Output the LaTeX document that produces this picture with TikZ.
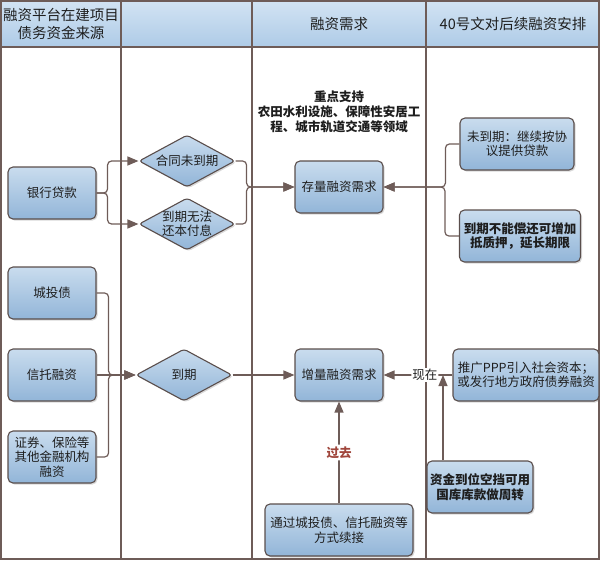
\documentclass[tikz,border=0pt]{standalone}
\usepackage{fontspec}
\setmainfont{Noto Sans CJK SC}
\usetikzlibrary{shapes.geometric,arrows.meta,shadows}
\definecolor{laneline}{HTML}{6E5C58}
\definecolor{boxline}{HTML}{5A4E4C}
\definecolor{boxtop}{HTML}{C9DCEE}
\definecolor{boxbot}{HTML}{92B5D8}
\definecolor{headtop}{HTML}{D2E3F3}
\definecolor{headbot}{HTML}{AECBE7}
\definecolor{pastred}{HTML}{A0463C}
\definecolor{ink}{HTML}{1E1E1E}
\tikzset{
  box/.style={draw=boxline,line width=1.1pt,rounded corners=5pt,
    top color=boxtop,bottom color=boxbot,
    drop shadow={shadow xshift=1.5pt,shadow yshift=-1.5pt,opacity=0.3},
    minimum width=88pt,minimum height=52pt,inner sep=2pt,align=center,
    text=ink,font=\fontsize{12.5}{14.5}\selectfont},
  dia/.style={box,diamond,rounded corners=3pt,aspect=1.85,inner sep=-6pt,
    minimum width=96pt,minimum height=52pt},
  bold/.style={font=\bfseries\fontsize{12.5}{14.5}\selectfont},
  head/.style={font=\fontsize{14.5}{18}\selectfont,align=center,text=ink},
  link/.style={draw=laneline,line width=1.2pt,rounded corners=4pt,
    -{Triangle[length=11pt,width=9pt]}},
}
\begin{document}
\begin{tikzpicture}[x=1pt,y=-1pt]
    \useasboundingbox (0,0) rectangle (600,560);
    % lanes
    \shade[top color=headtop,bottom color=headbot] (1,1) rectangle (599,47);
    \draw[laneline,line width=1.2pt] (1,1) rectangle (599,559);
    \draw[laneline,line width=1.2pt] (1,47) -- (599,47);
    \foreach \x in {121,252,426}{
        \draw[laneline,line width=1.2pt] (\x,1) -- (\x,559);
      }
    \node[head] (h1) at (61,24) {融资平台在建项目\\债务资金来源};
    \node[head] (h2) at (339,24) {融资需求};
    \node[head] (h3) at (513,24) {40号文对后续融资安排};

    % sources
    \node[box] (bank) at (52,193) {银行贷款};
    \node[box] (bond) at (52,293) {城投债};
    \node[box] (trust) at (52,375) {信托融资};
    \node[box] (other) at (52,457) {证券、保险等\\其他金融机构\\融资};

    % maturity
    \node[dia] (notdue) at (187,161) {合同未到期};
    \node[dia] (cantpay) at (187,224) {到期无法\\还本付息};
    \node[dia] (due) at (184,375) {到期};

    % demand
    \node[align=center,text=ink,font=\bfseries\fontsize{12.5}{15}\selectfont]
    (focus) at (339,112) {重点支持\\农田水利设施、保障性安居工\\程、城市轨道交通等领域};
    \node[box] (stock) at (339,187) {存量融资需求};
    \node[box] (incr) at (339,375) {增量融资需求};
    \node[box,minimum width=148pt] (cont) at (339,530) {通过城投债、信托融资等\\方式续接};

    % arrangements
    \node[box,minimum width=114pt] (keep) at (517,144) {未到期：继续按协\\议提供贷款};
    \node[box,bold,minimum width=121pt] (extend) at (520,236) {到期不能偿还可增加\\抵质押，延长期限};
    \node[box,minimum width=146pt] (ppp) at (526,375) {推广PPP引入社会资本；\\或发行地方政府债券融资};
    \node[box,bold,minimum width=106pt] (fund) at (480,487) {资金到位空挡可用\\国库库款做周转};

    % connectors
    \draw[link] (bank.east) -- ++(11,0) |- (notdue.west);
    \draw[link] (bank.east) -- ++(11,0) |- (cantpay.west);
    \draw[link] (notdue.east) -- ++(11,0) |- (stock.west);
    \draw[link] (cantpay.east) -- ++(11,0) |- (stock.west);
    \draw[link] (keep.west) -- ++(-14,0) |- (stock.east);
    \draw[link] (extend.west) -- ++(-14,0) |- (stock.east);
    \draw[link] (bond.east) -- ++(12,0) |- (due.west);
    \draw[link] (other.east) -- ++(12,0) |- (due.west);
    \draw[link] (trust.east) -- (due.west);
    \draw[link] (due.east) -- (incr.west);
    \draw[link] (ppp.west) -- node[pos=0.4,fill=white,inner sep=1pt,text=ink,
      font=\fontsize{12.5}{14.5}\selectfont] (now) {现在} (incr.east);
    \coordinate (nowin) at (443,375);
    \draw[link] (fund.north -| nowin) -- (nowin);
    \draw[link] (cont.north) -- node[fill=white,inner sep=2pt,text=pastred,
      font=\bfseries\fontsize{12.5}{14.5}\selectfont] (past) {过去} (incr.south);
  \end{tikzpicture}
\end{document}
